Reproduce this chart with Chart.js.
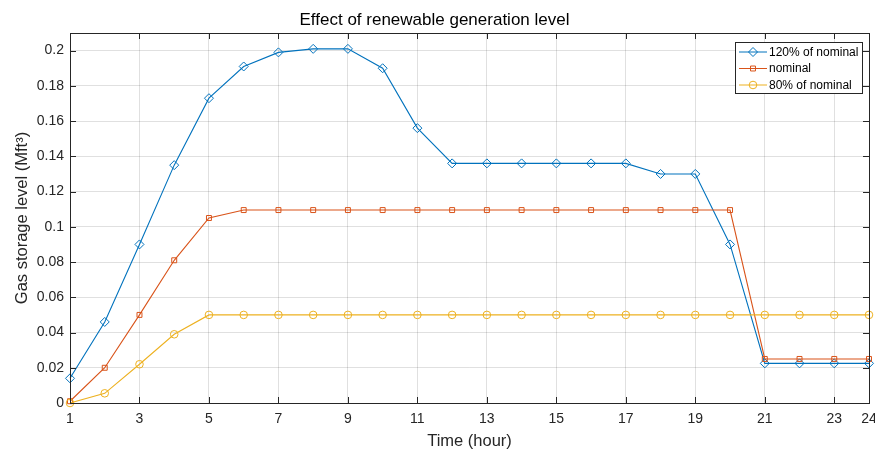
<!DOCTYPE html>
<html><head><meta charset="utf-8">
<script src="https://cdn.jsdelivr.net/npm/chart.js@4.4.0/dist/chart.umd.min.js"></script>
<style>html,body{margin:0;padding:0;background:#fff}#wrap{width:875px;height:451px}</style>
</head><body><div id="wrap"><canvas id="c" width="875" height="451"></canvas></div>
<script>
const hours = [1,2,3,4,5,6,7,8,9,10,11,12,13,14,15,16,17,18,19,20,21,22,23,24];
const xTicks = [1,3,5,7,9,11,13,15,17,19,21,23,24];
const yTicks = [0,0.02,0.04,0.06,0.08,0.1,0.12,0.14,0.16,0.18,0.2];
const seriesNames = ['120% of nominal','nominal','80% of nominal'];
const high = [0.014,0.046,0.09,0.135,0.173,0.191,0.199,0.201,0.201,0.19,0.156,0.136,0.136,0.136,0.136,0.136,0.136,0.13,0.13,0.09,0.0225,0.0225,0.0225,0.0225];
const nominal = [0.001,0.02,0.05,0.081,0.105,0.1095,0.1095,0.1095,0.1095,0.1095,0.1095,0.1095,0.1095,0.1095,0.1095,0.1095,0.1095,0.1095,0.1095,0.1095,0.025,0.025,0.025,0.025];
const low = [0,0.0055,0.022,0.039,0.05,0.05,0.05,0.05,0.05,0.05,0.05,0.05,0.05,0.05,0.05,0.05,0.05,0.05,0.05,0.05,0.05,0.05,0.05,0.05];

const colors = ['#0072BD','#D95319','#EDB120'];
const styles = ['rectRot','rect','circle'];
const radii = [4.5,3.5,3.8];
const all = [high, nominal, low];
const FONT = "'Liberation Sans', Arial, Helvetica, sans-serif";
const AX = '#262626';

const framePlugin = {
  id: 'frame',
  afterDraw(chart) {
    const {ctx, chartArea: a, scales} = chart;
    ctx.save();
    ctx.strokeStyle = AX; ctx.lineWidth = 1;
    ctx.strokeRect(Math.round(a.left)+0.5, Math.round(a.top)+0.5, Math.round(a.right-a.left), Math.round(a.bottom-a.top));
    const tl = 6;
    ctx.beginPath();
    xTicks.forEach(t => {
      const x = Math.round(scales.x.getPixelForValue(t))+0.5;
      ctx.moveTo(x, a.bottom); ctx.lineTo(x, a.bottom - tl);
      ctx.moveTo(x, a.top); ctx.lineTo(x, a.top + tl);
    });
    yTicks.forEach(t => {
      const y = Math.round(scales.y.getPixelForValue(t))+0.5;
      ctx.moveTo(a.left, y); ctx.lineTo(a.left + tl, y);
      ctx.moveTo(a.right, y); ctx.lineTo(a.right - tl, y);
    });
    ctx.stroke();
    // legend
    const lx = 735, ly = 42, lw = 127, lh = 51;
    ctx.fillStyle = '#fff';
    ctx.fillRect(lx, ly, lw, lh);
    ctx.strokeStyle = AX;
    ctx.strokeRect(lx+0.5, ly+0.5, lw, lh);
    ctx.font = '12px ' + FONT;
    ctx.textBaseline = 'middle';
    seriesNames.forEach((n, i) => {
      const y = ly + 10 + i*16.5;
      ctx.strokeStyle = colors[i]; ctx.lineWidth = 1;
      ctx.beginPath(); ctx.moveTo(lx+4, y); ctx.lineTo(lx+32, y); ctx.stroke();
      ctx.fillStyle = 'rgba(0,0,0,0)';
      Chart.helpers.drawPoint(ctx, {pointStyle: styles[i], radius: radii[i], borderWidth: 1}, lx+18, y);
      ctx.fillStyle = '#000';
      ctx.fillText(n, lx+34, y+0.5);
    });
    ctx.restore();
  }
};

const datasets = all.map((d, i) => ({
  label: seriesNames[i],
  data: hours.map((h, k) => ({x: h, y: d[k]})),
  borderColor: colors[i],
  backgroundColor: 'rgba(0,0,0,0)',
  borderWidth: 1.1,
  pointStyle: styles[i],
  pointRadius: radii[i],
  pointBorderWidth: 1,
  pointBorderColor: colors[i],
  pointBackgroundColor: 'rgba(0,0,0,0)',
  tension: 0,
  clip: false,
  order: 2 - i
}));

new Chart(document.getElementById('c'), {
  type: 'line',
  data: {datasets},
  plugins: [framePlugin],
  options: {
    responsive: false,
    animation: false,
    devicePixelRatio: 1,
    layout: {padding: {left: 0, right: 6, top: 0, bottom: 0}},
    plugins: {
      legend: {display: false},
      tooltip: {enabled: false},
      title: {
        display: true, text: 'Effect of renewable generation level',
        color: '#000', font: {family: FONT, size: 17, weight: 'normal'},
        padding: {top: 10, bottom: 2.6}
      }
    },
    scales: {
      x: {
        type: 'linear', min: 1, max: 24,
        afterBuildTicks: s => { s.ticks = xTicks.map(v => ({value: v})); },
        afterFit: s => { s.height = 48; s.paddingLeft = 0; s.paddingRight = 0; },
        grid: {color: 'rgba(0,0,0,0.12)', drawTicks: false, lineWidth: 1},
        border: {display: false},
        ticks: {color: '#262626', font: {family: FONT, size: 14}, padding: 8, maxRotation: 0, autoSkip: false},
        title: {display: true, text: 'Time (hour)', color: '#262626', font: {family: FONT, size: 16.5}, padding: {top: 0, bottom: 0}}
      },
      y: {
        min: 0, max: 0.21,
        afterBuildTicks: s => { s.ticks = yTicks.map(v => ({value: v})); },
        afterFit: s => { s.width = 70; },
        grid: {color: 'rgba(0,0,0,0.12)', drawTicks: false, lineWidth: 1},
        border: {display: false},
        ticks: {color: '#262626', font: {family: FONT, size: 14}, padding: 6, callback: v => String(+v.toFixed(2))},
        title: {display: true, text: 'Gas storage level (Mft³)', color: '#262626', font: {family: FONT, size: 16.5}, padding: {top: 13, bottom: 0}}
      }
    }
  }
});
</script></body></html>
